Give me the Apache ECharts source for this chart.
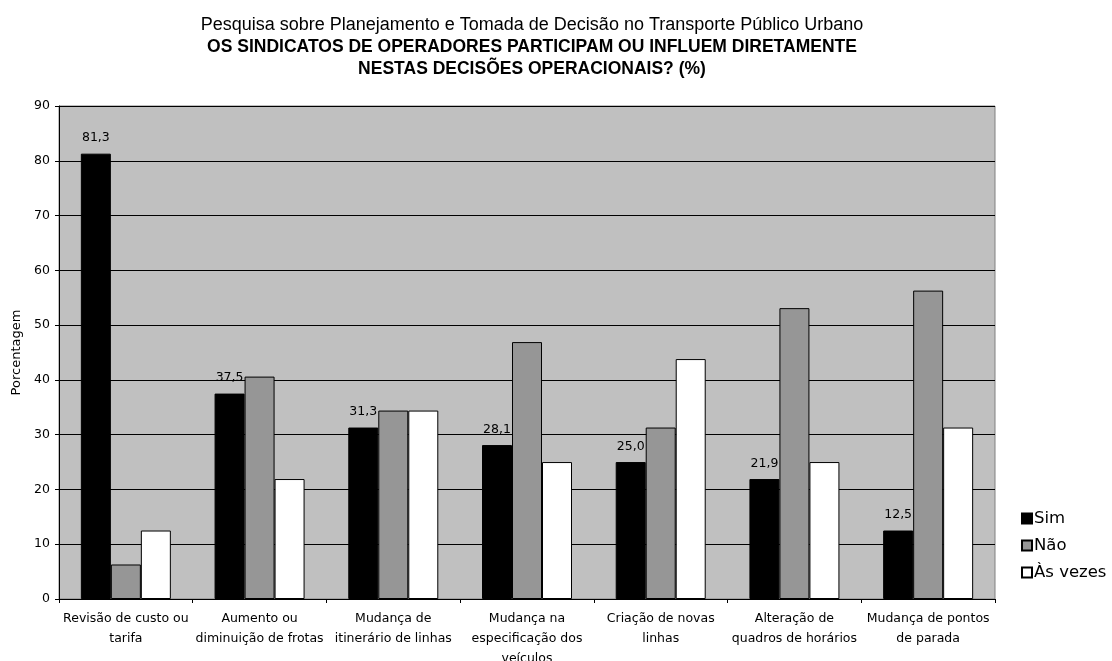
<!DOCTYPE html>
<html>
<head>
<meta charset="utf-8">
<script src="https://cdn.jsdelivr.net/npm/echarts@6/dist/echarts.min.js"></script>
<style>
  html, body { margin: 0; padding: 0; background: #fff; }
  #chart { width: 1112px; height: 661px; }
</style>
</head>
<body>
<div id="chart"></div>
<script>
// Survey answers per decision type (%)
const categories = [
  'Revisão de custo ou\ntarifa',
  'Aumento ou\ndiminuição de frotas',
  'Mudança de\nitinerário de linhas',
  'Mudança na\nespecificação dos\nveículos',
  'Criação de novas\nlinhas',
  'Alteração de\nquadros de horários',
  'Mudança de pontos\nde parada'
];
const sim = [81.3, 37.5, 31.3, 28.1, 25.0, 21.9, 12.5];
const nao = [6.3, 40.6, 34.4, 46.9, 31.3, 53.1, 56.3];
const asVezes = [12.5, 21.9, 34.4, 25.0, 43.8, 25.0, 31.3];
const seriesNames = ['Sim', 'Não', 'Às vezes'];
const yTicks = { min: 0, max: 90, interval: 10 };
const titleLines = [
  'Pesquisa sobre Planejamento e Tomada de Decisão no Transporte Público Urbano',
  'OS SINDICATOS DE OPERADORES PARTICIPAM OU INFLUEM DIRETAMENTE',
  'NESTAS DECISÕES OPERACIONAIS? (%)'
];

const font = 'DejaVu Sans, Liberation Sans, Arial, sans-serif';
const titleFont = 'Liberation Sans, Arial, sans-serif';
const gridBox = { left: 59, right: 117, top: 106, bottom: 62 };
const plotCenterX = gridBox.left + (1112 - gridBox.left - gridBox.right) / 2;

const chart = echarts.init(document.getElementById('chart'));

const barStyle = (color) => ({ color: color, borderColor: '#000', borderWidth: 1 });

// one title component per line, each centred over the plot area
const titles = titleLines.map((t, i) => ({
  text: t,
  left: plotCenterX,
  textAlign: 'center',
  top: 11 + i * 22,
  textStyle: {
    fontFamily: titleFont, color: '#000',
    fontSize: i === 0 ? 18 : 17.5,
    fontWeight: i === 0 ? 'normal' : 'bold'
  }
}));

chart.setOption({
  animation: false,
  textStyle: { fontFamily: font },
  title: titles,
  legend: {
    orient: 'vertical',
    left: 1016, top: 505,
    itemWidth: 10, itemHeight: 10, itemGap: 10,
    icon: 'rect',
    data: seriesNames,
    textStyle: { fontFamily: font, fontSize: 16.5, color: '#000', padding: [0, 0, 0, -3] }
  },
  grid: Object.assign({
    outerBoundsMode: 'none',
    containLabel: false,
    show: true, backgroundColor: '#C0C0C0', borderColor: '#808080', borderWidth: 1
  }, gridBox),
  xAxis: {
    type: 'category',
    data: categories,
    axisLine: { lineStyle: { color: '#000', width: 1 } },
    axisTick: { show: true, length: 4, lineStyle: { color: '#000' } },
    axisLabel: { fontFamily: font, fontSize: 12.5, color: '#000', interval: 0, lineHeight: 20, margin: 10 }
  },
  yAxis: {
    type: 'value',
    min: yTicks.min, max: yTicks.max, interval: yTicks.interval,
    name: 'Porcentagem',
    nameLocation: 'middle', nameGap: 35, nameRotate: 90,
    nameTextStyle: { fontFamily: font, fontSize: 13, color: '#000' },
    axisLine: { show: true, lineStyle: { color: '#000', width: 1 } },
    axisTick: { show: true, length: 4, lineStyle: { color: '#000' } },
    axisLabel: { fontFamily: font, fontSize: 12.5, color: '#000', margin: 9 },
    splitLine: { show: true, lineStyle: { color: '#000', width: 1 } }
  },
  series: [
    {
      name: seriesNames[0], type: 'bar', data: sim,
      barWidth: 30, barGap: '0%',
      itemStyle: barStyle('#000000'),
      label: {
        show: true, position: 'top', distance: 9,
        fontFamily: font, fontSize: 12.5, color: '#000',
        formatter: (p) => p.value.toFixed(1).replace('.', ',')
      }
    },
    {
      name: seriesNames[1], type: 'bar', data: nao,
      barWidth: 30, barGap: '0%',
      itemStyle: barStyle('#969696')
    },
    {
      name: seriesNames[2], type: 'bar', data: asVezes,
      barWidth: 30, barGap: '0%',
      itemStyle: barStyle('#FFFFFF')
    }
  ]
});
</script>
</body>
</html>
